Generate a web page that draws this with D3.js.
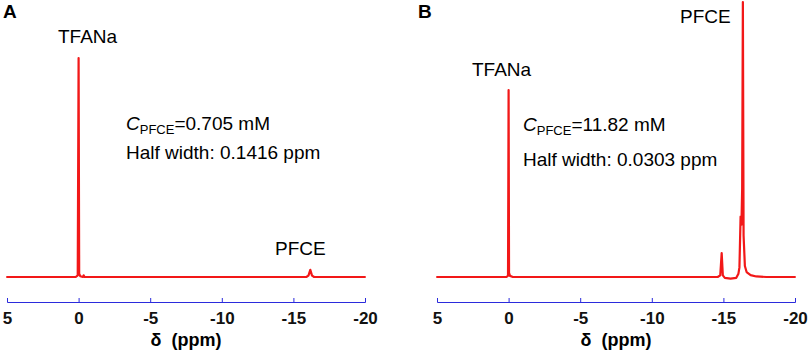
<!DOCTYPE html>
<html>
<head>
<meta charset="utf-8">
<script src="https://cdn.jsdelivr.net/npm/d3@7"></script>
<style>
  html, body { margin: 0; padding: 0; background: #fff; }
  svg { display: block; font-family: Arial, 'Liberation Sans', sans-serif; }
</style>
</head>
<body>
<svg id="chart" width="809" height="353"></svg>
<script>
// chemical shift ticks (ppm)
const tickValues = [5, 0, -5, -10, -15, -20]

// panel A spectrum: ppm / relative intensity
const ppmA = [5.05, 0.2, 0.06, 0, -0.04, -0.12, -0.3, -0.35, -0.42, -15.9, -16.05, -16.18, -16.3, -16.45, -20.05]
const intA = [0, 0, 0.6, 79.6, 1.2, 0.3, 0, 0.6, 0, 0, 0.5, 2.6, 0.5, 0, 0]

// panel B spectrum
const ppmB = [5.05, 0.15, 0.04, 0, -0.03, -0.1, -0.3, -14.6, -14.78, -14.88, -14.96, -15.1, -15.5, -15.9,
  -16.05, -16.12, -16.2, -16.26, -16.31, -16.36, -16.41, -16.5, -16.62, -16.9, -17.3, -18, -20.05]
const intB = [0, 0, 0.5, 68, 1.5, 0.4, 0, 0, 0.6, 8.7, 0.6, -0.3, -0.6, -0.3,
  1.2, 3.5, 22, 19, 32, 100, 15, 4, 1.8, 0.7, 0.2, 0, 0]

const panels = [
  {
    letter: 'A', x0: 7, x1: 365, ppm: ppmA, intensity: intA,
    peakLabels: [{ text: 'TFANa', x: 58, y: 43 }, { text: 'PFCE', x: 275, y: 255 }],
    conc: '=0.705 mM', halfWidth: 'Half width: 0.1416 ppm', tx: 126, ty1: 130, ty2: 159, lx: 3
  },
  {
    letter: 'B', x0: 437, x1: 795, ppm: ppmB, intensity: intB,
    peakLabels: [{ text: 'TFANa', x: 472, y: 76 }, { text: 'PFCE', x: 680, y: 23 }],
    conc: '=11.82 mM', halfWidth: 'Half width: 0.0303 ppm', tx: 523, ty1: 131, ty2: 166, lx: 418
  }
]

const svg = d3.select('#chart')
const baseY = 277
const axisY = 302

const y = d3.scaleLinear().domain([0, 100]).range([baseY, 2])

panels.forEach(p => {
  const x = d3.scaleLinear().domain([5, -20]).range([p.x0, p.x1])
  const g = svg.append('g')

  g.append('text')
    .attr('x', p.lx)
    .attr('y', 18)
    .attr('font-weight', 'bold')
    .attr('font-size', 19)
    .text(p.letter)

  const pts = p.ppm.map((v, i) => [v, p.intensity[i]])
  const line = d3.line()
    .x(d => x(d[0]))
    .y(d => y(d[1]))

  g.append('path')
    .datum(pts)
    .attr('fill', 'none')
    .attr('stroke', '#f21818')
    .attr('stroke-width', 2.2)
    .attr('stroke-linejoin', 'round')
    .attr('d', line)

  p.peakLabels.forEach(l => {
    g.append('text')
      .attr('x', l.x)
      .attr('y', l.y)
      .attr('font-size', 19)
      .text(l.text)
  })

  const t1 = g.append('text')
    .attr('x', p.tx)
    .attr('y', p.ty1)
    .attr('font-size', 19)
  t1.append('tspan').attr('font-style', 'italic').text('C')
  t1.append('tspan').attr('font-size', 13).attr('dy', 4).text('PFCE')
  t1.append('tspan').attr('dy', -4).text(p.conc)

  g.append('text')
    .attr('x', p.tx)
    .attr('y', p.ty2)
    .attr('font-size', 19)
    .text(p.halfWidth)

  const ax = g.append('g')
    .attr('transform', `translate(0,${axisY})`)
    .call(d3.axisBottom(x)
      .tickValues(tickValues)
      .tickSizeInner(-4)
      .tickSizeOuter(-4)
      .tickPadding(10)
      .tickFormat(d => String(d)))

  ax.select('.domain').attr('stroke', '#2b2bdc')
  ax.selectAll('.tick line').attr('stroke', '#2b2bdc')
  ax.selectAll('.tick text')
    .attr('fill', '#111')
    .attr('font-size', 17)
    .attr('font-weight', 'bold')
    .attr('font-family', "Arial, 'Liberation Sans', sans-serif")

  g.append('text')
    .attr('x', (p.x0 + p.x1) / 2)
    .attr('y', 346)
    .attr('text-anchor', 'middle')
    .attr('font-size', 18)
    .attr('font-weight', 'bold')
    .attr('xml:space', 'preserve')
    .text('δ  (ppm)')
})
</script>
</body>
</html>
